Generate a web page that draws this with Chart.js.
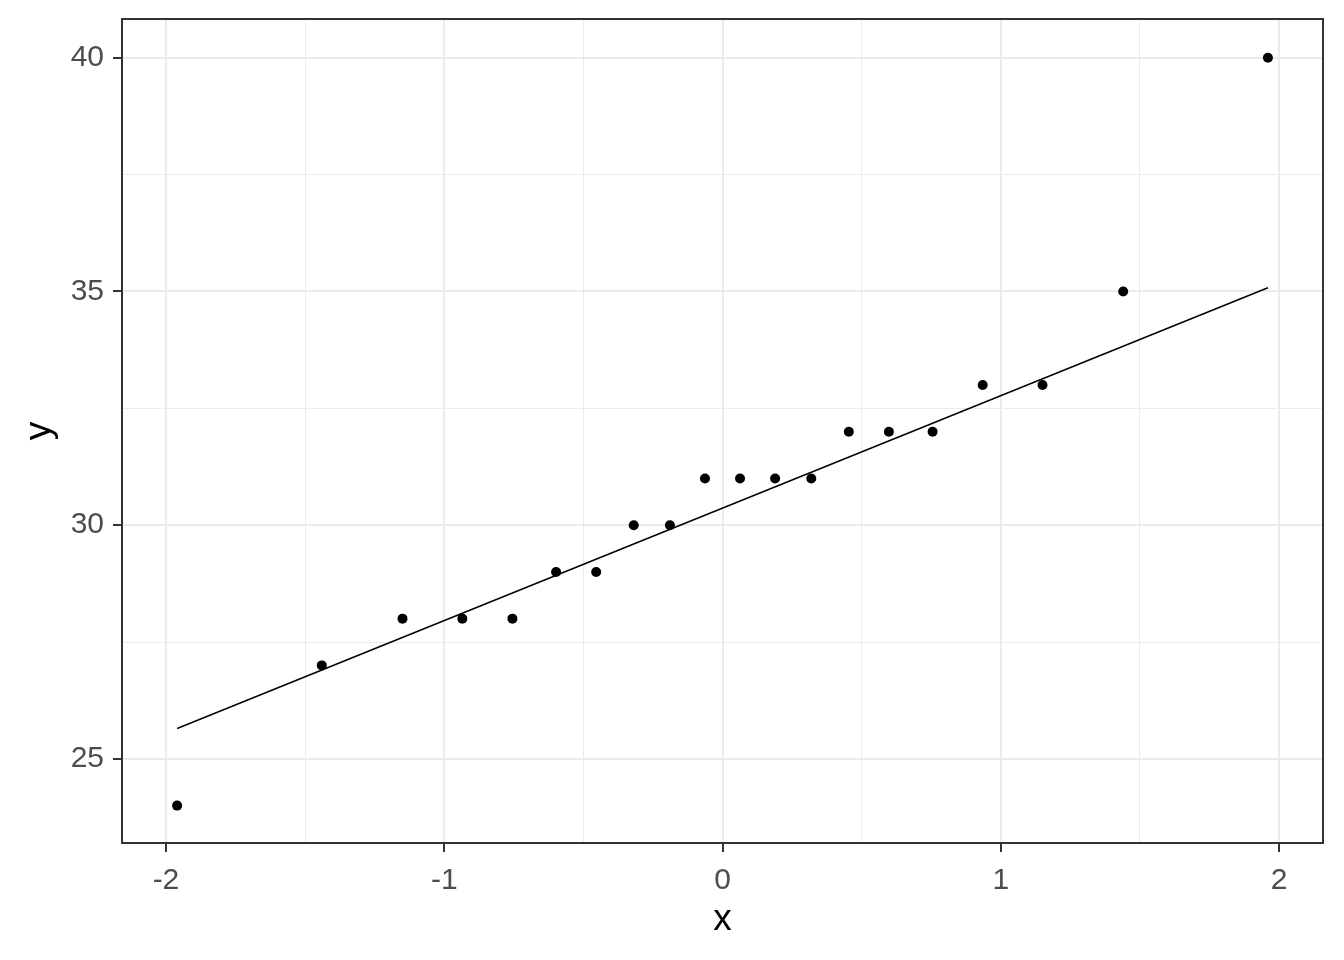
<!DOCTYPE html>
<html>
<head>
<meta charset="utf-8">
<script src="https://cdn.jsdelivr.net/npm/chart.js@4/dist/chart.umd.min.js"></script>
<style>
  html, body { margin:0; padding:0; background:#fff; }
  #wrap { width:1344px; height:960px; }
</style>
</head>
<body>
<div id="wrap"><canvas id="qq"></canvas></div>
<script>
// theoretical normal quantiles (x) and sorted sample values (y)
const theo   = [-1.960, -1.440, -1.150, -0.935, -0.755, -0.598, -0.454, -0.319, -0.189, -0.063,
                 0.063,  0.189,  0.319,  0.454,  0.598,  0.755,  0.935,  1.150,  1.440,  1.960];
const sample = [24, 27, 28, 28, 28, 29, 29, 30, 30, 31,
                31, 31, 31, 32, 32, 32, 33, 33, 35, 40];

// reference line endpoints
const lineX = [-1.96, 1.96];
const lineY = [25.65, 35.08];

const xMajor = [-2, -1, 0, 1, 2];
const yMajor = [25, 30, 35, 40];

Chart.defaults.font.family = '"Liberation Sans", Arial, sans-serif';
Chart.defaults.animation = false;

const isMajorX = v => xMajor.includes(v);
const isMajorY = v => yMajor.includes(v);

// ggplot-style full panel border
const panelBorder = {
  id: 'panelBorder',
  afterDraw(chart) {
    const { ctx, chartArea: a } = chart;
    ctx.save();
    ctx.strokeStyle = '#333333';
    ctx.lineWidth = 2;
    ctx.strokeRect(a.left, a.top, a.right - a.left, a.bottom - a.top);
    ctx.restore();
  }
};

const ctx = document.getElementById('qq').getContext('2d');
new Chart(ctx, {
  type: 'scatter',
  data: {
    datasets: [
      {
        type: 'line',
        data: lineX.map((x, i) => ({ x, y: lineY[i] })),
        borderColor: '#000', borderWidth: 1.5, pointRadius: 0, fill: false, tension: 0,
      },
      {
        data: theo.map((x, i) => ({ x, y: sample[i] })),
        backgroundColor: '#000', borderColor: '#000', pointRadius: 5, borderWidth: 0,
      },
    ],
  },
  options: {
    responsive: true,
    maintainAspectRatio: false,
    layout: { padding: { top: 19, right: 21, left: 0, bottom: 0 } },
    plugins: { legend: { display: false }, tooltip: { enabled: false } },
    scales: {
      x: {
        type: 'linear', min: -2.158, max: 2.158,
        afterFit: s => { s.height = 117; s.paddingLeft = 0; s.paddingRight = 0; },
        border: { display: false },
        grid: {
          color: c => '#ebebeb',
          lineWidth: c => isMajorX(c.tick.value) ? 2 : 1,
          tickColor: c => isMajorX(c.tick.value) ? '#333333' : 'rgba(0,0,0,0)',
          tickWidth: 2, tickLength: 9,
        },
        ticks: {
          stepSize: 0.5, includeBounds: false, autoSkip: false, maxRotation: 0,
          color: '#4d4d4d', font: { size: 30 }, padding: 11,
          callback: v => isMajorX(v) ? String(v) : '',
        },
        title: { display: true, text: 'x', color: '#000', font: { size: 37 }, padding: { top: 0, bottom: 18 } },
      },
      y: {
        type: 'linear', min: 23.2, max: 40.83,
        afterFit: s => { s.width = 122; s.paddingTop = 0; s.paddingBottom = 0; },
        border: { display: false },
        grid: {
          color: c => '#ebebeb',
          lineWidth: c => isMajorY(c.tick.value) ? 2 : 1,
          tickColor: c => isMajorY(c.tick.value) ? '#333333' : 'rgba(0,0,0,0)',
          tickWidth: 2, tickLength: 9,
        },
        ticks: {
          stepSize: 2.5, includeBounds: false, autoSkip: false,
          color: '#4d4d4d', font: { size: 30 }, padding: 9,
          callback: v => isMajorY(v) ? String(v) : '',
        },
        title: { display: true, text: 'y', color: '#000', font: { size: 37 }, padding: { top: 18, bottom: 0 } },
      },
    },
  },
  plugins: [panelBorder],
});
</script>
</body>
</html>
